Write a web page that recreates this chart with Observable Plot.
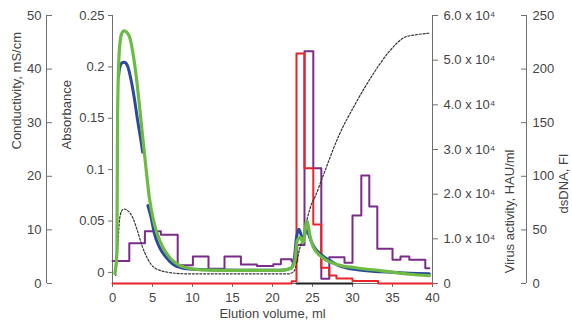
<!DOCTYPE html>
<html><head><meta charset="utf-8">
<script src="https://cdn.jsdelivr.net/npm/d3@7"></script>
<script src="https://cdn.jsdelivr.net/npm/@observablehq/plot@0.6"></script>
<style>
body{margin:0;background:#fff}
#chart svg{font-family:"Liberation Sans",Arial,sans-serif}
</style>
</head><body><div id="chart"></div>
<script>
// ---- Data ----
const volumeTicks = [0, 5, 10, 15, 20, 25, 30, 35, 40];
const absTicks = [0, 0.05, 0.1, 0.15, 0.2, 0.25];
const condTicks = [0, 10, 20, 30, 40, 50];
const virusTicks = [0, 10000, 20000, 30000, 40000, 50000, 60000];
const dnaTicks = [0, 50, 100, 150, 200, 250];

// Absorbance (green)
const greenX = [0.3, 0.55, 0.63, 0.83, 1.13, 1.46, 2.09, 2.5, 2.93, 3.35, 3.77, 4.18, 4.6, 5.23, 6.07, 7.32, 9.0, 11.1, 16, 21, 22.3, 22.8, 23.1, 23.5, 23.8, 24.3, 24.7, 25.1, 26.2, 28.3, 30.4, 33.7, 37.1, 39.6];
const greenA = [-0.001, 0.02, 0.148, 0.213, 0.232, 0.235, 0.230, 0.216, 0.193, 0.164, 0.132, 0.102, 0.073, 0.047, 0.028, 0.013, 0.005, 0.0025, 0.002, 0.002, 0.004, 0.012, 0.031, 0.034, 0.029, 0.050, 0.035, 0.0245, 0.0148, 0.0072, 0.0045, 0.0015, -0.0018, -0.0032];
// Absorbance (blue), two visible stretches
const blue1X = [0.75, 0.83, 1.13, 1.46, 1.88, 2.3, 2.72, 3.14, 3.56, 3.77];
const blue1A = [0.19, 0.196, 0.2036, 0.2045, 0.201, 0.188, 0.170, 0.148, 0.128, 0.117];
const blue2X = [4.42, 4.81, 5.23, 5.86, 6.7, 8, 10, 16, 21, 22.3, 22.7, 23.0, 23.3, 23.6, 23.8, 24.1, 24.3, 24.7, 25.1, 26.2, 27.3, 28.3, 30.4, 33.7, 37.1, 39.6];
const blue2A = [0.065, 0.054, 0.038, 0.0245, 0.0148, 0.006, 0.003, 0.002, 0.002, 0.004, 0.012, 0.034, 0.042, 0.036, 0.033, 0.038, 0.041, 0.033, 0.026, 0.0165, 0.011, 0.0065, 0.0028, 0.0006, -0.0008, -0.0012];
// Conductivity, mS/cm (black dotted)
const condX = [0.4, 0.6, 0.85, 1.1, 1.4, 1.9, 2.5, 3.1, 3.75, 4.4, 5.2, 6.9, 9.4, 22.0, 22.7, 23.24, 23.66, 24.07, 24.9, 25.3, 26.2, 28.3, 30.35, 32.46, 34.55, 36.6, 37.5, 39.6];
const condV = [1.5, 5, 11.5, 13.4, 13.9, 13.6, 12.4, 9.9, 6.8, 4.6, 3.0, 2.1, 1.8, 1.8, 2.3, 5.5, 8.0, 10.5, 14.9, 16.1, 19.6, 27.6, 33.5, 38.8, 43.2, 46.0, 46.3, 46.7];
// dsDNA, FI (purple step histogram): fraction edges and values
const dnaEdges = [0, 2.1, 4.05, 6.05, 8.15, 10.05, 12.0, 14.0, 16.05, 18.05, 20.1, 21.05, 22.4, 23.1, 24.0, 25.1, 26.1, 27.1, 29.0, 30.0, 31.1, 32.1, 33.1, 35.0, 36.0, 37.1, 39.1, 39.6];
const dnaV = [21, 37.5, 48.8, 45.4, 17, 25.2, 13.7, 25.2, 17.7, 16.4, 18, 22.7, 20.5, 36, 216.7, 107.5, 4.4, 24.5, 19.3, 63.4, 100.7, 71.8, 32.4, 22.1, 25.2, 22.1, 14.3];
// Virus activity, HAU/ml (red step histogram)
const virusEdges = [0, 22.4, 23.0, 24.0, 25.1, 26.1, 27.1, 28.0, 30.0, 33.2, 40];
const virusV = [0, 500, 51500, 25800, 13200, 3500, 1800, 1100, 560, 0];
// Pooled fractions marker (black bar on the baseline)
const poolX = [23.0, 30.0];

// ---- Common vertical scale (absorbance units) ----
const yMin = -0.0108, yMax = 0.25;
const fromFrac = f => yMin + f * (yMax - yMin);
const toFrac = a => (a - yMin) / (yMax - yMin);

const green = greenX.map((x, i) => ({x, y: greenA[i]}));
const blue1 = blue1X.map((x, i) => ({x, y: blue1A[i]}));
const blue2 = blue2X.map((x, i) => ({x, y: blue2A[i]}));
const cond = condX.map((x, i) => ({x, y: fromFrac(condV[i] / 50)}));
const stepPts = (edges, vals, max) => edges.map((x, i) => ({x, y: fromFrac(vals[Math.min(i, vals.length - 1)] / max)}));
const dna = stepPts(dnaEdges, dnaV, 250);
const virus = stepPts(virusEdges, virusV, 60000);
const pool = poolX.map(x => ({x, y: fromFrac(0)}));

const axisColor = "#707070";
const textColor = "#444";
const sup4 = "\u2074";

const chart = Plot.plot({
  width: 572, height: 326,
  marginTop: 15, marginBottom: 43, marginLeft: 112, marginRight: 140,
  style: {fontSize: "13px", fontFamily: "'Liberation Sans', Arial, sans-serif", color: textColor, background: "#fff"},
  x: {domain: [0, 40], axis: null},
  y: {domain: [yMin, yMax], axis: null},
  marks: [
    // axis lines
    Plot.ruleY([yMin], {stroke: axisColor}),
    Plot.ruleX([volumeTicks[0]], {stroke: axisColor}),
    Plot.ruleX([volumeTicks[volumeTicks.length - 1]], {stroke: axisColor}),
    Plot.ruleX([volumeTicks[0]], {stroke: axisColor, dx: -66}),
    Plot.ruleX([volumeTicks[0]], {stroke: axisColor, dx: 414}),
    // x axis
    Plot.axisX({ticks: volumeTicks, tickSize: 4, tickPadding: 5, tickFormat: d => String(d), stroke: axisColor, fill: textColor, label: null}),
    // absorbance axis
    Plot.axisY({anchor: "left", ticks: absTicks, tickSize: 4, tickPadding: 4, tickFormat: d => String(d), stroke: axisColor, fill: textColor, label: null}),
    // conductivity axis: labels (left) and ticks (right of line)
    Plot.axisY({anchor: "left", ticks: condTicks.map(c => fromFrac(c / 50)), tickSize: 0, tickPadding: 5, dx: -66,
      tickFormat: a => String(Math.round(toFrac(a) * 50)), fill: textColor, label: null}),
    Plot.axisY({anchor: "right", ticks: condTicks.map(c => fromFrac(c / 50)), tickSize: 5, dx: -386, fill: "none", stroke: axisColor, label: null}),
    // virus activity axis
    Plot.axisY({anchor: "right", ticks: virusTicks.map(v => fromFrac(v / 60000)), tickSize: 5, tickPadding: 6,
      tickFormat: a => { const v = Math.round(toFrac(a) * 6) ; return v === 0 ? "0" : v.toFixed(1) + " x 10" + sup4; },
      stroke: axisColor, fill: textColor, label: null}),
    // dsDNA axis: ticks (left of line) and labels (right)
    Plot.axisY({anchor: "left", ticks: dnaTicks.map(d => fromFrac(d / 250)), tickSize: 5, dx: 414, fill: "none", stroke: axisColor, label: null}),
    Plot.axisY({anchor: "right", ticks: dnaTicks.map(d => fromFrac(d / 250)), tickSize: 0, tickPadding: 6, dx: 94,
      tickFormat: a => String(Math.round(toFrac(a) * 250)), fill: textColor, label: null}),
    // axis titles
    Plot.text(["Elution volume, ml"], {frameAnchor: "bottom", dy: 34, fill: textColor, fontSize: 13}),
    Plot.text(["Conductivity, mS/cm"], {frameAnchor: "left", dx: -96, rotate: -90, fill: textColor, fontSize: 13}),
    Plot.text(["Absorbance"], {frameAnchor: "left", dx: -46, rotate: -90, fill: textColor, fontSize: 13}),
    Plot.text(["Virus activity, HAU/ml"], {frameAnchor: "right", dx: 77, rotate: -90, fill: textColor, fontSize: 13}),
    Plot.text(["dsDNA, FI"], {frameAnchor: "right", dx: 131, dy: 4, rotate: -90, fill: textColor, fontSize: 13}),
    // data
    Plot.line(dna, {x: "x", y: "y", curve: "step-after", stroke: "#7b2c8b", strokeWidth: 2}),
    Plot.line(virus, {x: "x", y: "y", curve: "step-after", stroke: "#e8232a", strokeWidth: 2}),
    Plot.line(cond, {x: "x", y: "y", curve: "monotone-x", stroke: "#333", strokeWidth: 1.2, strokeDasharray: "2,1.8"}),
    Plot.line(blue1, {x: "x", y: "y", curve: "monotone-x", stroke: "#2b4a9e", strokeWidth: 3}),
    Plot.line(blue2, {x: "x", y: "y", curve: "monotone-x", stroke: "#2b4a9e", strokeWidth: 3}),
    Plot.line(green, {x: "x", y: "y", curve: "monotone-x", stroke: "#6dbb43", strokeWidth: 3.2}),
    Plot.line(pool, {x: "x", y: "y", stroke: "#222", strokeWidth: 2})
  ]
});
document.getElementById("chart").appendChild(chart);
</script>
</body></html>
